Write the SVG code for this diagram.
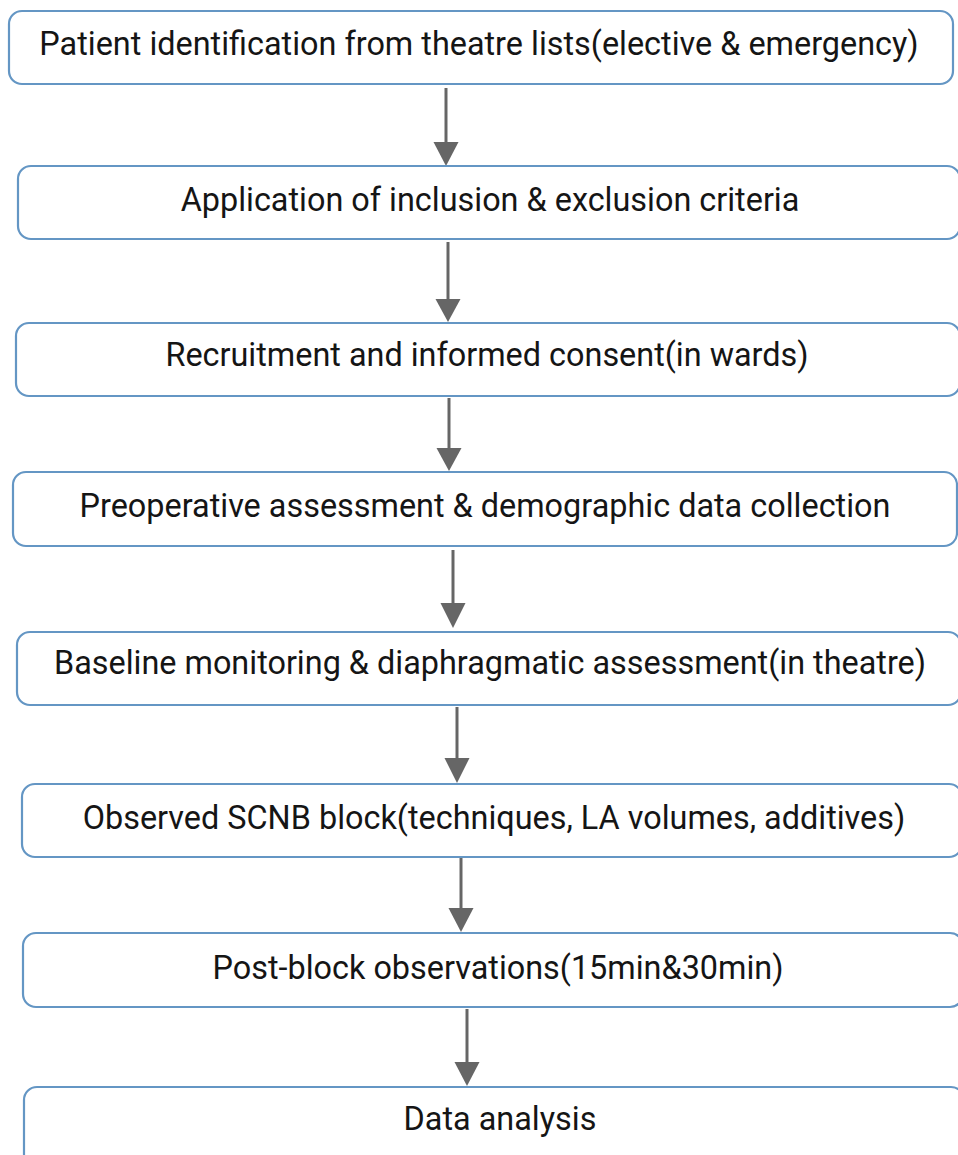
<svg xmlns="http://www.w3.org/2000/svg" width="958" height="1155" viewBox="0 0 958 1155">
<defs>
<style>
.box{fill:#fff;stroke:#6496c4;stroke-width:2.2}
.lbl{font-family:Roboto,"Liberation Sans",sans-serif;font-size:32.4px;fill:#151515;text-anchor:middle}
.conn{stroke:#666;stroke-width:3;fill:none}
.head{fill:#666}
</style>
</defs>
<rect width="958" height="1155" fill="#fff"/>
<g id="connectors">
<line class="conn" x1="446" y1="88" x2="446" y2="145"/><polygon class="head" points="433.5,142 458.5,142 446,166"/>
<line class="conn" x1="448" y1="242" x2="448" y2="302"/><polygon class="head" points="435.5,299 460.5,299 448,322"/>
<line class="conn" x1="449" y1="398" x2="449" y2="451"/><polygon class="head" points="436.5,448 461.5,448 449,471"/>
<line class="conn" x1="453" y1="550" x2="453" y2="606"/><polygon class="head" points="440.5,603 465.5,603 453,628"/>
<line class="conn" x1="457" y1="707" x2="457" y2="761"/><polygon class="head" points="444.5,758 469.5,758 457,783"/>
<line class="conn" x1="461" y1="858" x2="461" y2="911"/><polygon class="head" points="448.5,908 473.5,908 461,932"/>
<line class="conn" x1="467" y1="1009" x2="467" y2="1065"/><polygon class="head" points="454.5,1062 479.5,1062 467,1086"/>
</g>
<g id="n1"><rect class="box" x="9" y="11" width="944" height="73" rx="13"/><text class="lbl" x="479" y="55">Patient identification from theatre lists(elective &amp; emergency)</text></g>
<g id="n2"><rect class="box" x="18" y="166" width="942" height="73" rx="13"/><text class="lbl" x="490" y="211">Application of inclusion &amp; exclusion criteria</text></g>
<g id="n3"><rect class="box" x="16" y="323" width="944" height="73" rx="13"/><text class="lbl" x="487" y="366">Recruitment and informed consent(in wards)</text></g>
<g id="n4"><rect class="box" x="13" y="472" width="944" height="74" rx="13"/><text class="lbl" x="485" y="517">Preoperative assessment &amp; demographic data collection</text></g>
<g id="n5"><rect class="box" x="17" y="632" width="944" height="73" rx="13"/><text class="lbl" x="490" y="674">Baseline monitoring &amp; diaphragmatic assessment(in theatre)</text></g>
<g id="n6"><rect class="box" x="22" y="784" width="940" height="73" rx="13"/><text class="lbl" x="494" y="829">Observed SCNB block(techniques, LA volumes, additives)</text></g>
<g id="n7"><rect class="box" x="23" y="933" width="940" height="74" rx="13"/><text class="lbl" x="498" y="979">Post-block observations(15min&amp;30min)</text></g>
<g id="n8"><rect class="box" x="24" y="1087" width="940" height="80" rx="13"/><text class="lbl" x="500" y="1130">Data analysis</text></g>
</svg>
